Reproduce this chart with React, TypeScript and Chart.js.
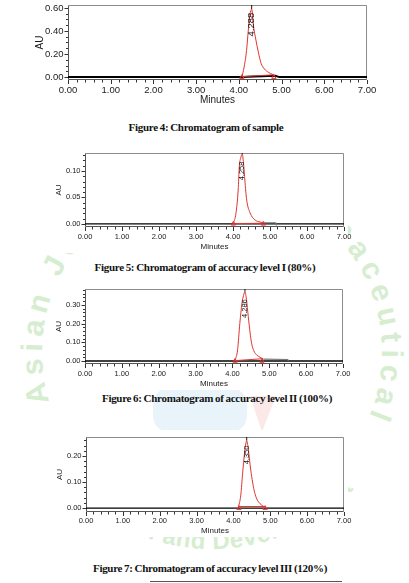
import React, { useEffect, useRef } from 'react';
import { Chart, registerables } from 'chart.js';
Chart.register(...registerables);

// ---------- shared axis values ----------
const xTickValues = [0, 1, 2, 3, 4, 5, 6, 7];
const xMinorStep = 0.2;

// ---------- Figure 4: sample ----------
const f4Caption = 'Figure 4: Chromatogram of sample';
const f4YTicks = [0, 0.2, 0.4, 0.6];
const f4YRange = [-0.025, 0.625];
const f4PeakT = [4.07, 4.12, 4.18, 4.22, 4.26, 4.3, 4.34, 4.4, 4.46, 4.52, 4.6, 4.7, 4.78, 4.85];
const f4PeakV = [0.0, 0.08, 0.23, 0.4, 0.54, 0.59, 0.45, 0.32, 0.21, 0.12, 0.07, 0.04, 0.025, 0.012];
const f4TraceT = [0, 4.07, 4.85, 4.95, 7];
const f4TraceV = [0, 0, 0.012, 0, 0];
const f4IntT = [4.07, 4.82];
const f4IntV = [0.004, 0.02];
const f4RT = 4.3;
const f4RTLabel = '4.288';

// ---------- Figure 5: accuracy level I (80%) ----------
const f5Caption = 'Figure 5: Chromatogram of accuracy level I (80%)';
const f5YTicks = [0, 0.05, 0.1];
const f5YRange = [-0.006, 0.134];
const f5PeakT = [4.01, 4.08, 4.14, 4.17, 4.21, 4.25, 4.29, 4.32, 4.37, 4.46, 4.59, 4.7, 4.82];
const f5PeakV = [0.0, 0.02, 0.064, 0.108, 0.125, 0.132, 0.11, 0.083, 0.045, 0.021, 0.0075, 0.004, 0.002];
const f5TraceT = [0, 7];
const f5TraceV = [0, 0];
const f5ExtraT = [4.82, 5.15, 5.16];
const f5ExtraV = [0.002, 0.002, 0];
const f5IntT = [4.01, 4.82];
const f5IntV = [0.0005, 0.001];
const f5RT = 4.25;
const f5RTLabel = '4.258';

// ---------- Figure 6: accuracy level II (100%) ----------
const f6Caption = 'Figure 6: Chromatogram of accuracy level II (100%)';
const f6YTicks = [0, 0.1, 0.2, 0.3];
const f6YRange = [-0.016, 0.385];
const f6PeakT = [4.07, 4.14, 4.2, 4.26, 4.3, 4.34, 4.38, 4.43, 4.48, 4.52, 4.58, 4.66, 4.75, 4.84];
const f6PeakV = [0.0, 0.06, 0.2, 0.31, 0.35, 0.37, 0.33, 0.237, 0.15, 0.095, 0.055, 0.032, 0.02, 0.01];
const f6TraceT = [0, 7];
const f6TraceV = [0, 0];
const f6ExtraT = [4.84, 5.5, 5.52];
const f6ExtraV = [0.01, 0.008, 0.001];
const f6IntT = [4.07, 4.8];
const f6IntV = [0.002, 0.012];
const f6RT = 4.34;
const f6RTLabel = '4.286';

// ---------- Figure 7: accuracy level III (120%) ----------
const f7Caption = 'Figure 7: Chromatogram of accuracy level III (120%)';
const f7YTicks = [0, 0.1, 0.2];
const f7YRange = [-0.015, 0.273];
const f7PeakT = [4.13, 4.2, 4.25, 4.3, 4.34, 4.36, 4.4, 4.47, 4.52, 4.56, 4.62, 4.68, 4.76, 4.86];
const f7PeakV = [0.0, 0.05, 0.134, 0.21, 0.25, 0.259, 0.23, 0.146, 0.1, 0.069, 0.04, 0.024, 0.012, 0.003];
const f7TraceT = [0, 7];
const f7TraceV = [0, 0];
const f7IntT = [4.15, 4.86];
const f7IntV = [0.006, 0.006];
const f7RT = 4.36;
const f7RTLabel = '4.350';

const W = 409;
const RED = '#e0352f';
const TXT = '#1a1a1a';
const FONT = "'Liberation Sans', Arial, sans-serif";

const pts = (t: number[], v: number[]) => t.map((x, i) => ({ x, y: v[i] }));

type Fig = {
  caption: string; yTicks: number[]; yRange: number[];
  peakT: number[]; peakV: number[]; traceT: number[]; traceV: number[];
  extraT?: number[]; extraV?: number[]; intT: number[]; intV: number[];
  rt: number; rtLabel: string; labelV: number; minorY: number;
  top: number; h: number; left: number; right: number; aTop: number; aBottom: number;
  tickSize: number; titleSize: number; auX: number; minutesY: number; xLabOff: number;
  baseW: number; capX: number; capY: number;
};

const figs: Fig[] = [
  {
    caption: f4Caption, yTicks: f4YTicks, yRange: f4YRange, peakT: f4PeakT, peakV: f4PeakV,
    traceT: f4TraceT, traceV: f4TraceV, intT: f4IntT, intV: f4IntV, rt: f4RT, rtLabel: f4RTLabel,
    labelV: 0.456, minorY: 0.05,
    top: 0, h: 108, left: 68, right: 367, aTop: 3, aBottom: 80, tickSize: 9.5, titleSize: 10,
    auX: 40, minutesY: 100, xLabOff: 10, baseW: 2, capX: 206, capY: 127,
  },
  {
    caption: f5Caption, yTicks: f5YTicks, yRange: f5YRange, peakT: f5PeakT, peakV: f5PeakV,
    traceT: f5TraceT, traceV: f5TraceV, extraT: f5ExtraT, extraV: f5ExtraV, intT: f5IntT, intV: f5IntV,
    rt: f5RT, rtLabel: f5RTLabel, labelV: 0.1, minorY: 0.01,
    top: 145, h: 110, left: 85, right: 344, aTop: 8, aBottom: 82, tickSize: 7.5, titleSize: 8,
    auX: 59, minutesY: 102, xLabOff: 9.7, baseW: 1.3, capX: 205, capY: 267,
  },
  {
    caption: f6Caption, yTicks: f6YTicks, yRange: f6YRange, peakT: f6PeakT, peakV: f6PeakV,
    traceT: f6TraceT, traceV: f6TraceV, extraT: f6ExtraT, extraV: f6ExtraV, intT: f6IntT, intV: f6IntV,
    rt: f6RT, rtLabel: f6RTLabel, labelV: 0.28, minorY: 0.02,
    top: 282, h: 108, left: 85, right: 343, aTop: 7, aBottom: 82, tickSize: 7.5, titleSize: 8,
    auX: 59, minutesY: 102, xLabOff: 10, baseW: 1.3, capX: 217, capY: 398,
  },
  {
    caption: f7Caption, yTicks: f7YTicks, yRange: f7YRange, peakT: f7PeakT, peakV: f7PeakV,
    traceT: f7TraceT, traceV: f7TraceV, intT: f7IntT, intV: f7IntV, rt: f7RT, rtLabel: f7RTLabel,
    labelV: 0.204, minorY: 0.02,
    top: 430, h: 110, left: 86, right: 344, aTop: 7, aBottom: 82, tickSize: 7.5, titleSize: 8,
    auX: 60, minutesY: 101, xLabOff: 9, baseW: 1.3, capX: 210, capY: 568,
  },
];

function decor(f: Fig) {
  return {
    id: 'decor',
    beforeDraw(chart: any) {
      // the chromatogram image itself is opaque
      const { ctx } = chart;
      ctx.save();
      ctx.fillStyle = '#fff';
      const x0 = f.auX - 8;
      ctx.fillRect(x0, 0, f.right + 4 - x0, Math.min(f.h, f.minutesY + 6));
      ctx.restore();
    },
    beforeDatasetsDraw(chart: any) {
      const { ctx, chartArea: a } = chart;
      const l = Math.round(a.left) + 0.5, r = Math.round(a.right) - 0.5;
      const t = Math.round(a.top) + 0.5, b = Math.round(a.bottom) - 0.5;
      ctx.save();
      ctx.lineWidth = 1;
      ctx.strokeStyle = '#8c8c8c';
      ctx.beginPath();
      ctx.moveTo(l, t); ctx.lineTo(r, t); ctx.lineTo(r, b);
      ctx.stroke();
      ctx.strokeStyle = '#555';
      ctx.beginPath();
      ctx.moveTo(l, t); ctx.lineTo(l, b); ctx.lineTo(r, b);
      ctx.stroke();
      ctx.restore();
    },
    afterDraw(chart: any) {
      const { ctx, chartArea: a, scales } = chart;
      const xs = scales.x, ys = scales.y;
      ctx.save();
      ctx.strokeStyle = '#333';
      ctx.lineWidth = 1;
      ctx.beginPath();
      const b = Math.round(a.bottom);
      for (let i = 0; i <= Math.round(7 / xMinorStep); i++) {
        const v = i * xMinorStep;
        const major = Math.abs(v - Math.round(v)) < 1e-6;
        const px = Math.round(xs.getPixelForValue(v)) + 0.5;
        ctx.moveTo(px, b);
        ctx.lineTo(px, b + (major ? 4 : 2.5));
      }
      const l = Math.round(a.left);
      const maxV = f.yRange[1];
      for (let i = 0; i * f.minorY <= maxV + 1e-9; i++) {
        const v = i * f.minorY;
        const major = f.yTicks.some((tv) => Math.abs(tv - v) < 1e-6);
        const py = Math.round(ys.getPixelForValue(v)) + 0.5;
        ctx.moveTo(l, py);
        ctx.lineTo(l - (major ? 3.5 : 2), py);
      }
      ctx.stroke();
      ctx.fillStyle = '#111';
      ctx.font = `${f.tickSize}px ${FONT}`;
      ctx.translate(xs.getPixelForValue(f.rt), ys.getPixelForValue(f.labelV));
      ctx.rotate(-Math.PI / 2);
      ctx.textAlign = 'center';
      ctx.textBaseline = 'middle';
      ctx.fillText(f.rtLabel, 0, 0);
      ctx.restore();
    },
  };
}

function buildConfig(f: Fig): any {
  const tickLH = f.tickSize * 1.2;
  const titleLH = f.titleSize * 1.2;
  const apexIdx = f.peakT.indexOf(f.rt);
  const apexV = apexIdx >= 0 ? f.peakV[apexIdx] : Math.max(...f.peakV);
  const datasets: any[] = [
    {
      data: pts(f.peakT, f.peakV), borderColor: RED, borderWidth: 1, pointRadius: 0,
      cubicInterpolationMode: 'monotone',
    },
    { data: pts(f.intT, f.intV), borderColor: RED, borderWidth: 1, pointRadius: 0 },
    {
      data: pts(f.intT, [0, 0]), showLine: false, pointStyle: 'triangle', pointRadius: 2.5,
      borderColor: RED, borderWidth: 1, backgroundColor: 'rgba(0,0,0,0)',
    },
    {
      data: [{ x: f.rt, y: apexV }, { x: f.rt, y: f.yRange[1] }],
      borderColor: '#111', borderWidth: 1, pointRadius: 0,
    },
  ];
  if (f.extraT && f.extraV) {
    datasets.push({ data: pts(f.extraT, f.extraV), borderColor: '#777', borderWidth: 1.2, pointRadius: 0 });
  }
  datasets.push({ data: pts(f.traceT, f.traceV), borderColor: '#000', borderWidth: f.baseW, pointRadius: 0 });

  return {
    type: 'line',
    data: { datasets },
    options: {
      animation: false,
      responsive: false,
      maintainAspectRatio: false,
      events: [],
      layout: { padding: { left: 0, right: W - f.right, top: f.aTop, bottom: 0 } },
      plugins: { legend: { display: false }, tooltip: { enabled: false } },
      scales: {
        x: {
          type: 'linear', min: 0, max: 7,
          afterBuildTicks: (s: any) => { s.ticks = xTickValues.map((value) => ({ value })); },
          afterFit: (s: any) => { s.height = f.h - f.aBottom; s.paddingLeft = 0; s.paddingRight = 0; },
          grid: { display: false, drawTicks: false },
          border: { display: false },
          ticks: {
            autoSkip: false, maxRotation: 0, minRotation: 0,
            padding: f.xLabOff - tickLH / 2,
            color: TXT, font: { family: FONT, size: f.tickSize },
            callback: (v: any) => Number(v).toFixed(2),
          },
          title: {
            display: true, text: 'Minutes', color: TXT,
            font: { family: FONT, size: f.titleSize },
            padding: { top: 0, bottom: f.h - f.minutesY - titleLH / 2 },
          },
        },
        y: {
          type: 'linear', min: f.yRange[0], max: f.yRange[1],
          afterBuildTicks: (s: any) => { s.ticks = f.yTicks.map((value) => ({ value })); },
          afterFit: (s: any) => { s.width = f.left; s.paddingTop = 0; s.paddingBottom = 0; },
          grid: { display: false, drawTicks: false },
          border: { display: false },
          ticks: {
            padding: 4.5,
            color: TXT, font: { family: FONT, size: f.tickSize },
            callback: (v: any) => Number(v).toFixed(2),
          },
          title: {
            display: true, text: 'AU', color: TXT,
            font: { family: FONT, size: f.titleSize },
            padding: { top: f.auX - titleLH / 2, bottom: 0 },
          },
        },
      },
    },
    plugins: [decor(f)],
  };
}

function ChromChart({ f }: { f: Fig }) {
  const ref = useRef<HTMLCanvasElement>(null);
  useEffect(() => {
    const chart = new Chart(ref.current as HTMLCanvasElement, buildConfig(f));
    return () => chart.destroy();
  }, [f]);
  return (
    <canvas
      ref={ref}
      width={W}
      height={f.h}
      style={{ position: 'absolute', left: 0, top: f.top, width: W, height: f.h, display: 'block' }}
    />
  );
}

function Watermark() {
  const cx = 212, cy = 352;
  const p = (r: number, deg: number) => {
    const a = (deg * Math.PI) / 180;
    return `${(cx + r * Math.cos(a)).toFixed(1)} ${(cy + r * Math.sin(a)).toFixed(1)}`;
  };
  const rTop = 170, rBot = 197;
  const topPath = `M ${p(rTop, 163)} A ${rTop} ${rTop} 0 1 1 ${p(rTop, 384)}`;
  const botPath = `M ${p(rBot, 140)} A ${rBot} ${rBot} 0 0 0 ${p(rBot, 40)}`;
  return (
    <svg width={W} height={583} style={{ position: 'absolute', left: 0, top: 0 }}>
      <defs>
        <path id="wmTop" d={topPath} />
        <path id="wmBot" d={botPath} />
      </defs>
      <rect x={153} y={388} width={94} height={44} rx={16} fill="#e9f4fa" />
      <polygon points="250,396 276,396 262,432" fill="#fbe9e9" />
      <text fill="#d6edd0" fontSize={30} fontWeight="bold" fontFamily={FONT}>
        <textPath href="#wmTop" textLength={650} lengthAdjust="spacing">Asian Journal of Pharmaceutical</textPath>
      </text>
      <text fill="#d6edd0" fontSize={24} fontWeight="bold" fontFamily={FONT}>
        <textPath href="#wmBot" textLength={330} lengthAdjust="spacing">Research and Development</textPath>
      </text>
    </svg>
  );
}

export default function App() {
  return (
    <div style={{ position: 'absolute', left: 0, top: 0, width: W, height: 583, overflow: 'hidden', background: '#fff' }}>
      <Watermark />
      {figs.map((f, i) => (
        <ChromChart key={i} f={f} />
      ))}
      {figs.map((f, i) => (
        <div
          key={'c' + i}
          style={{
            position: 'absolute', left: f.capX, top: f.capY - 7, transform: 'translateX(-50%)',
            whiteSpace: 'nowrap', fontFamily: "'Liberation Serif', 'Times New Roman', serif",
            fontWeight: 'bold', fontSize: 11, lineHeight: '14px', letterSpacing: -0.3, wordSpacing: -0.5,
            color: '#111',
          }}
        >
          {f.caption}
        </div>
      ))}
      <div style={{ position: 'absolute', left: 150, top: 581, width: 192, height: 1, background: '#555' }} />
    </div>
  );
}
